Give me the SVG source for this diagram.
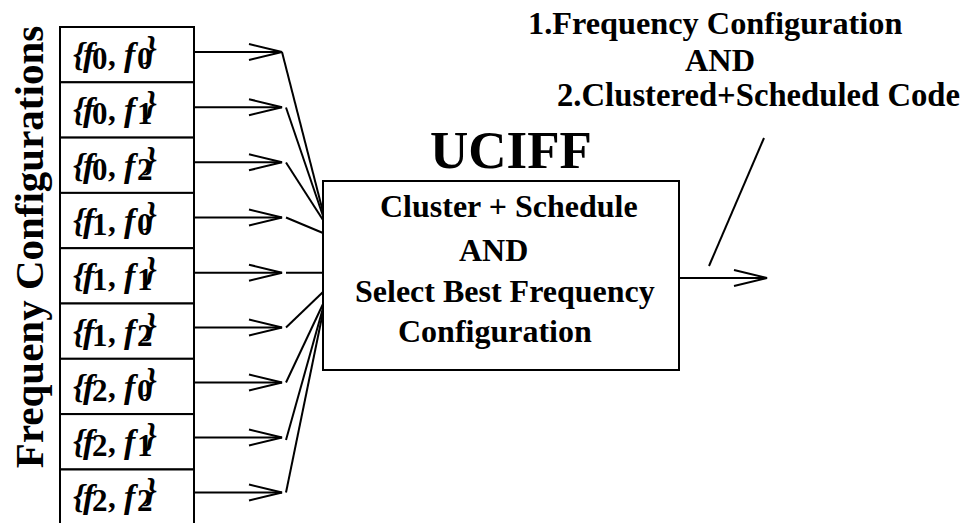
<svg xmlns="http://www.w3.org/2000/svg" width="965" height="523" viewBox="0 0 965 523">
<style>
.box{fill:#fff;stroke:#000;stroke-width:2}
.ln{fill:none;stroke:#000;stroke-width:2}
.t{font-family:'Liberation Serif','Times New Roman',serif;font-weight:bold;fill:#000}
.lbl{font-family:'Liberation Serif','Times New Roman',serif;font-weight:bold;font-size:31px;fill:#000}
.it{font-style:italic;font-size:34px}
</style>
<defs>
<marker id="v" markerUnits="userSpaceOnUse" orient="auto" overflow="visible" refX="0" refY="0" markerWidth="40" markerHeight="20">
<path d="M-33,-8 L0,0 L-33,8" fill="none" stroke="#000" stroke-width="2"/>
</marker>
</defs>
<rect width="965" height="523" fill="#fff"/>

<text class="t" font-size="41" text-anchor="middle" transform="translate(43,247) rotate(-90)">Frequeny Configurations</text>

<g id="cfg00"><rect class="box" x="60" y="27" width="134" height="55.3"/>
<text class="lbl" y="66"><tspan class="it" x="73">{</tspan><tspan class="it" x="83">f</tspan><tspan x="92" dy="3">0</tspan><tspan x="108" dy="-3">,</tspan><tspan class="it" x="124">f</tspan><tspan x="137" dy="3">0</tspan><tspan class="it" x="145" dy="-9">}</tspan></text></g>
<g id="cfg01"><rect class="box" x="60" y="82.3" width="134" height="55.3"/>
<text class="lbl" y="121.3"><tspan class="it" x="73">{</tspan><tspan class="it" x="83">f</tspan><tspan x="92" dy="3">0</tspan><tspan x="108" dy="-3">,</tspan><tspan class="it" x="124">f</tspan><tspan x="137" dy="3">1</tspan><tspan class="it" x="145" dy="-9">}</tspan></text></g>
<g id="cfg02"><rect class="box" x="60" y="137.6" width="134" height="55.3"/>
<text class="lbl" y="176.6"><tspan class="it" x="73">{</tspan><tspan class="it" x="83">f</tspan><tspan x="92" dy="3">0</tspan><tspan x="108" dy="-3">,</tspan><tspan class="it" x="124">f</tspan><tspan x="137" dy="3">2</tspan><tspan class="it" x="145" dy="-9">}</tspan></text></g>
<g id="cfg10"><rect class="box" x="60" y="192.9" width="134" height="55.3"/>
<text class="lbl" y="231.9"><tspan class="it" x="73">{</tspan><tspan class="it" x="83">f</tspan><tspan x="92" dy="3">1</tspan><tspan x="108" dy="-3">,</tspan><tspan class="it" x="124">f</tspan><tspan x="137" dy="3">0</tspan><tspan class="it" x="145" dy="-9">}</tspan></text></g>
<g id="cfg11"><rect class="box" x="60" y="248.2" width="134" height="55.3"/>
<text class="lbl" y="287.2"><tspan class="it" x="73">{</tspan><tspan class="it" x="83">f</tspan><tspan x="92" dy="3">1</tspan><tspan x="108" dy="-3">,</tspan><tspan class="it" x="124">f</tspan><tspan x="137" dy="3">1</tspan><tspan class="it" x="145" dy="-9">}</tspan></text></g>
<g id="cfg12"><rect class="box" x="60" y="303.5" width="134" height="55.3"/>
<text class="lbl" y="342.5"><tspan class="it" x="73">{</tspan><tspan class="it" x="83">f</tspan><tspan x="92" dy="3">1</tspan><tspan x="108" dy="-3">,</tspan><tspan class="it" x="124">f</tspan><tspan x="137" dy="3">2</tspan><tspan class="it" x="145" dy="-9">}</tspan></text></g>
<g id="cfg20"><rect class="box" x="60" y="358.8" width="134" height="55.3"/>
<text class="lbl" y="397.8"><tspan class="it" x="73">{</tspan><tspan class="it" x="83">f</tspan><tspan x="92" dy="3">2</tspan><tspan x="108" dy="-3">,</tspan><tspan class="it" x="124">f</tspan><tspan x="137" dy="3">0</tspan><tspan class="it" x="145" dy="-9">}</tspan></text></g>
<g id="cfg21"><rect class="box" x="60" y="414.1" width="134" height="55.3"/>
<text class="lbl" y="453.1"><tspan class="it" x="73">{</tspan><tspan class="it" x="83">f</tspan><tspan x="92" dy="3">2</tspan><tspan x="108" dy="-3">,</tspan><tspan class="it" x="124">f</tspan><tspan x="137" dy="3">1</tspan><tspan class="it" x="145" dy="-9">}</tspan></text></g>
<g id="cfg22"><path class="box" d="M60,523 V469.4 H194 V523"/>
<text class="lbl" y="508.4"><tspan class="it" x="73">{</tspan><tspan class="it" x="83">f</tspan><tspan x="92" dy="3">2</tspan><tspan x="108" dy="-3">,</tspan><tspan class="it" x="124">f</tspan><tspan x="137" dy="3">2</tspan><tspan class="it" x="145" dy="-9">}</tspan></text></g>

<g id="uciff">
<text class="t" font-size="53" x="430" y="168">UCIFF</text>
<rect class="box" x="323" y="181" width="356" height="189"/>
<text class="t" font-size="32" x="380" y="217">Cluster + Schedule</text>
<text class="t" font-size="32" x="459" y="261">AND</text>
<text class="t" font-size="32" x="355" y="302">Select Best Frequency</text>
<text class="t" font-size="32" x="398" y="342">Configuration</text>
</g>

<g id="output">
<text class="t" font-size="32.3" x="528" y="34">1.Frequency Configuration</text>
<text class="t" font-size="32.3" x="685" y="71">AND</text>
<text class="t" font-size="32.7" x="557" y="106">2.Clustered+Scheduled Code</text>
</g>

<g id="connectors">
<line class="ln" x1="194" y1="52" x2="282" y2="52" marker-end="url(#v)"/>
<line class="ln" x1="194" y1="107.2" x2="282" y2="107.2" marker-end="url(#v)"/>
<line class="ln" x1="194" y1="162.3" x2="282" y2="162.3" marker-end="url(#v)"/>
<line class="ln" x1="194" y1="217.5" x2="282" y2="217.5" marker-end="url(#v)"/>
<line class="ln" x1="194" y1="272.7" x2="282" y2="272.7" marker-end="url(#v)"/>
<line class="ln" x1="194" y1="327.5" x2="282" y2="327.5" marker-end="url(#v)"/>
<line class="ln" x1="194" y1="382.5" x2="282" y2="382.5" marker-end="url(#v)"/>
<line class="ln" x1="194" y1="437.5" x2="282" y2="437.5" marker-end="url(#v)"/>
<line class="ln" x1="194" y1="492.5" x2="282" y2="492.5" marker-end="url(#v)"/>
<line class="ln" x1="282" y1="52" x2="323" y2="212"/>
<line class="ln" x1="286" y1="107.5" x2="323" y2="216"/>
<line class="ln" x1="286" y1="162.5" x2="323" y2="220"/>
<line class="ln" x1="286" y1="217.5" x2="323" y2="233"/>
<line class="ln" x1="286" y1="272.7" x2="323" y2="272.7"/>
<line class="ln" x1="286" y1="327.5" x2="323" y2="292"/>
<line class="ln" x1="286" y1="382.5" x2="323" y2="304"/>
<line class="ln" x1="286" y1="440" x2="323" y2="308"/>
<line class="ln" x1="286" y1="492.5" x2="323" y2="312"/>
<line class="ln" x1="679" y1="278" x2="767" y2="278" marker-end="url(#v)"/>
<line class="ln" x1="709" y1="266" x2="764" y2="138"/>
</g>
</svg>
